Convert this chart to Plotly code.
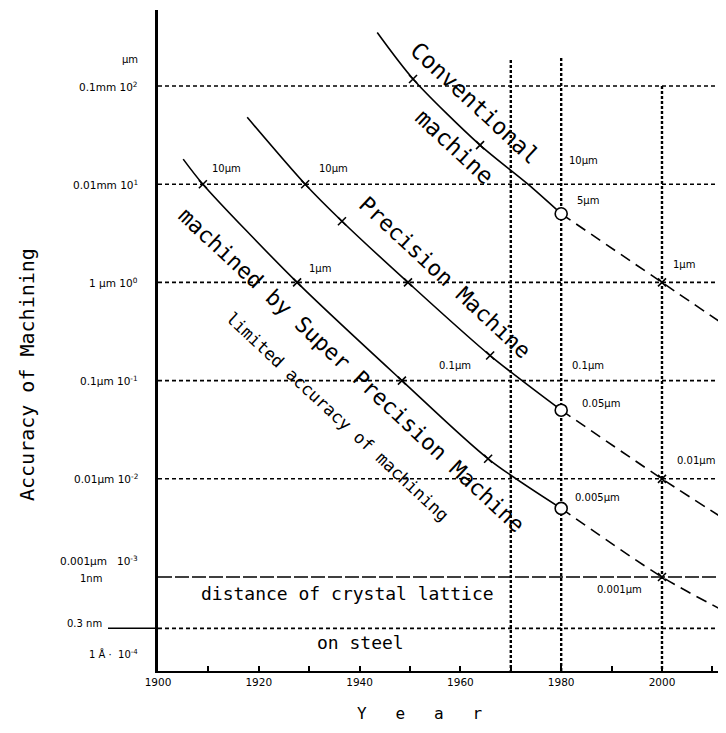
import numpy as np
import plotly.graph_objects as go

# ---------------- data (accuracy in micrometres) ----------------
conv_years = [1943.5, 1950.6, 1963.9, 1973.4, 1980]
conv_um = [350, 118, 25, 10, 5]
conv_fut_years = [1980, 2000, 2012.7]
conv_fut_um = [5, 1, 0.36]

prec_years = [1917.7, 1929.2, 1936.5, 1949.6, 1965.9, 1980]
prec_um = [48, 10, 4.2, 1, 0.18, 0.05]
prec_fut_years = [1980, 2000, 2012.7]
prec_fut_um = [0.05, 0.01, 0.0038]

sup_years = [1905.0, 1908.9, 1927.6, 1948.4, 1965.5, 1980]
sup_um = [18, 10, 1, 0.1, 0.016, 0.005]
sup_fut_years = [1980, 2000, 2012.7]
sup_fut_um = [0.005, 0.001, 0.00044]

cross_years = [1950.6, 1963.9, 2000, 1929.2, 1936.5, 1949.6, 1965.9, 2000,
               1908.9, 1927.6, 1948.4, 1965.5, 2000]
cross_um = [118, 25, 1, 10, 4.2, 1, 0.18, 0.01, 10, 1, 0.1, 0.016, 0.001]
circle_years = [1980, 1980, 1980]
circle_um = [5, 0.05, 0.005]

grid_um = [100, 10, 1, 0.1, 0.01]
lattice_um = 0.001
steel_um = 0.0003
vline_years = [1970, 1980, 2000]
vline_top_um = [184, 193, 100]

x_range = [1900, 2012.7]
y_range = [-3.957, 2.774]
x_ticks = [1900, 1920, 1940, 1960, 1980, 2000]

ytick_labels = [("0.1mm 10<sup>2</sup>", 100), ("0.01mm 10<sup>1</sup>", 10),
                ("1 µm 10<sup>0</sup>", 1), ("0.1µm 10<sup>-1</sup>", 0.1),
                ("0.01µm 10<sup>-2</sup>", 0.01)]

point_labels = [
    ("10µm", 1981.2, 17.6), ("5µm", 1982.7, 6.9), ("1µm", 2001.8, 1.54),
    ("10µm", 1931.5, 14.6), ("0.1µm", 1955.4, 0.144), ("0.1µm", 1981.7, 0.144),
    ("0.05µm", 1983.7, 0.059), ("0.01µm", 2002.6, 0.0155),
    ("10µm", 1910.3, 14.6), ("1µm", 1929.6, 1.40),
    ("0.005µm", 1982.3, 0.0065), ("0.001µm", 1986.7, 0.00074),
]

MONO = "DejaVu Sans Mono"
SANS = "DejaVu Sans"

fig = go.Figure()

# grid lines
for v in grid_um:
    fig.add_trace(go.Scatter(x=x_range, y=[v, v], mode="lines", hoverinfo="skip",
                             line=dict(color="black", width=1.6, dash="4px,3px")))
fig.add_trace(go.Scatter(x=x_range, y=[lattice_um, lattice_um], mode="lines", hoverinfo="skip",
                         line=dict(color="black", width=1.6, dash="14px,3px")))
fig.add_trace(go.Scatter(x=x_range, y=[steel_um, steel_um], mode="lines", hoverinfo="skip",
                         line=dict(color="black", width=1.6, dash="4px,3px")))
for yr, top in zip(vline_years, vline_top_um):
    fig.add_trace(go.Scatter(x=[yr, yr], y=[top, 1e-4], mode="lines", hoverinfo="skip",
                             line=dict(color="black", width=2.4, dash="3px,2px")))

# curves
for xs, ys in [(conv_years, conv_um), (prec_years, prec_um), (sup_years, sup_um)]:
    fig.add_trace(go.Scatter(x=xs, y=ys, mode="lines",
                             line=dict(color="black", width=1.6, shape="spline", smoothing=0.8)))
for xs, ys in [(conv_fut_years, conv_fut_um), (prec_fut_years, prec_fut_um),
               (sup_fut_years, sup_fut_um)]:
    fig.add_trace(go.Scatter(x=xs, y=ys, mode="lines",
                             line=dict(color="black", width=1.6, dash="11px,7px",
                                       shape="spline", smoothing=0.8)))

fig.add_trace(go.Scatter(x=cross_years, y=cross_um, mode="markers",
                         marker=dict(symbol="x-thin", size=8, line=dict(color="black", width=1.6))))
fig.add_trace(go.Scatter(x=circle_years, y=circle_um, mode="markers",
                         marker=dict(symbol="circle", size=12, color="white",
                                     line=dict(color="black", width=1.6))))

ann = []
# curve labels (rotated)
big = [("Conventional", 1962.9, 1.827, 23), ("machine", 1958.9, 1.379, 23),
       ("Precision Machine", 1956.9, 0.045, 22),
       ("machined by Super Precision Machine", 1938.5, -0.892, 22),
       ("limited accuracy of machining", 1935.7, -1.371, 17)]
for t, x, ly, fs in big:
    ann.append(dict(x=x, y=ly, xref="x", yref="y", text=t, showarrow=False,
                    textangle=43, font=dict(family=MONO, size=fs, color="black")))
ann.append(dict(x=1937.5, y=-3.163, xref="x", yref="y", text="distance of crystal lattice",
                showarrow=False, font=dict(family=MONO, size=18, color="black")))
ann.append(dict(x=1940.1, y=-3.662, xref="x", yref="y", text="on steel",
                showarrow=False, font=dict(family=MONO, size=18, color="black")))

for t, x, v in point_labels:
    ann.append(dict(x=x, y=np.log10(v), xref="x", yref="y", text=t, showarrow=False,
                    xanchor="left", font=dict(family=SANS, size=10, color="black")))

# y tick labels
xl = (140 - 158) / 568
for t, v in ytick_labels:
    ann.append(dict(x=xl, y=np.log10(v), xref="paper", yref="y", text=t, showarrow=False,
                    xanchor="right", font=dict(family=SANS, size=10.5, color="black")))
ann.append(dict(x=xl, y=2.27, xref="paper", yref="y", text="µm", showarrow=False,
                xanchor="right", font=dict(family=SANS, size=10, color="black")))
ann.append(dict(x=xl, y=-2.83, xref="paper", yref="y", text="0.001µm   10<sup>-3</sup>",
                showarrow=False, xanchor="right", font=dict(family=SANS, size=10.5, color="black")))
ann.append(dict(x=(104 - 158) / 568, y=-3.01, xref="paper", yref="y", text="1nm",
                showarrow=False, xanchor="right", font=dict(family=SANS, size=10, color="black")))
ann.append(dict(x=(104 - 158) / 568, y=np.log10(steel_um) + 0.05, xref="paper", yref="y",
                text="0.3 nm", showarrow=False, xanchor="right",
                font=dict(family=SANS, size=10, color="black")))
ann.append(dict(x=xl, y=-3.78, xref="paper", yref="y", text="1 Å ·  10<sup>-4</sup>",
                showarrow=False, xanchor="right", font=dict(family=SANS, size=10, color="black")))

# axis titles
ann.append(dict(x=(27 - 158) / 568, y=(671 - 375) / 661, xref="paper", yref="paper",
                text="Accuracy of Machining", textangle=-90, showarrow=False,
                xanchor="center", yanchor="middle",
                font=dict(family=MONO, size=20, color="black")))
ann.append(dict(x=(420 - 158) / 568, y=(671 - 713) / 661, xref="paper", yref="paper",
                text="Y   e   a   r", showarrow=False, xanchor="center", yanchor="middle",
                font=dict(family=MONO, size=16, color="black")))

ys_paper = (np.log10(steel_um) - y_range[0]) / (y_range[1] - y_range[0])
fig.add_shape(type="line", xref="paper", yref="paper", x0=(108 - 158) / 568, x1=0,
              y0=ys_paper, y1=ys_paper, line=dict(color="black", width=1.5))

fig.update_layout(
    width=726, height=733, margin=dict(l=150, r=8, t=2, b=70),
    paper_bgcolor="white", plot_bgcolor="white", showlegend=False,
    annotations=ann,
    xaxis=dict(range=x_range, tickvals=x_ticks, ticks="inside", ticklen=5,
               tickwidth=1.5, tickcolor="black", showline=True, linewidth=2,
               linecolor="black", showgrid=False, zeroline=False,
               tickfont=dict(family=SANS, size=10.5, color="black"),
               minor=dict(dtick=10, tick0=1900, ticks="inside", ticklen=5,
                          tickcolor="black", tickwidth=1.5, showgrid=False)),
    yaxis=dict(type="log", range=y_range, showline=True, linewidth=2.5,
               linecolor="black", showgrid=False, zeroline=False,
               showticklabels=False, ticks=""),
)

fig.write_html("out.html")
